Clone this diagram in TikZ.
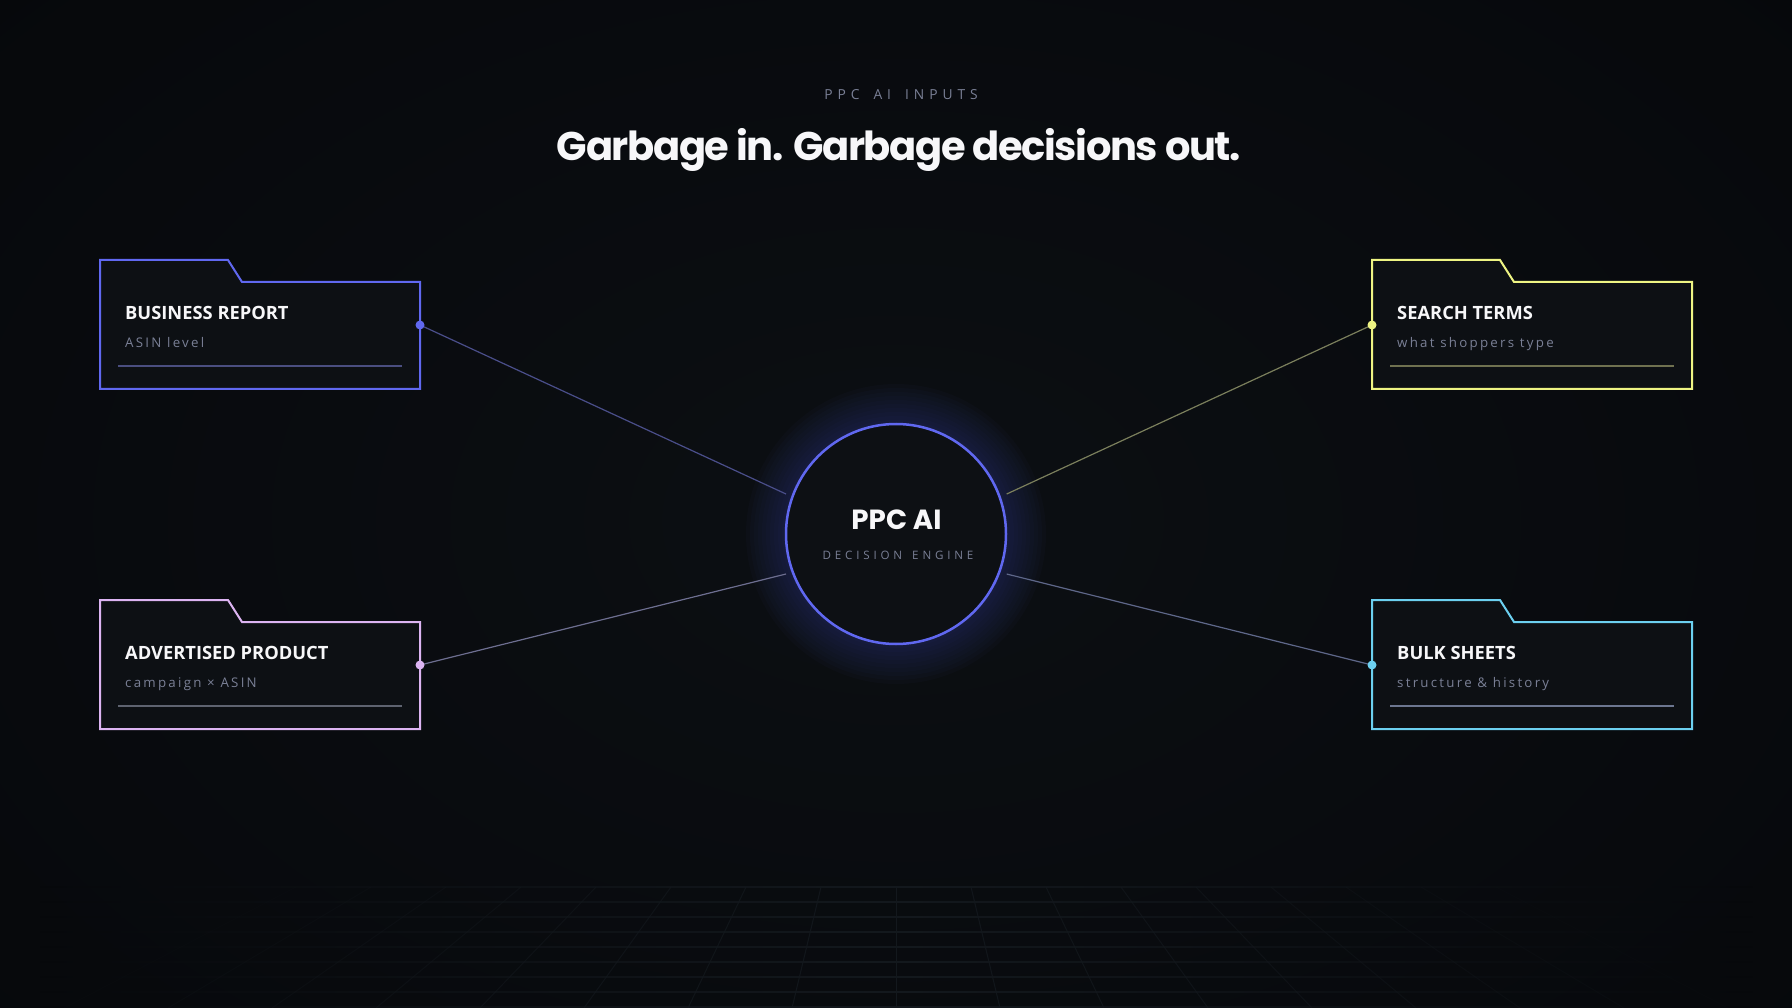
\documentclass[tikz,border=0pt]{standalone}
\usepackage{fontspec}
\setmainfont{Open Sans}
\newfontfamily\headfont[LetterSpace=-3.5]{Poppins}
\newfontfamily\hubfont{Poppins}
\newfontfamily\subfont[LetterSpace=17]{Open Sans}
\newfontfamily\kickerfont[LetterSpace=36]{Open Sans}
\newfontfamily\enginefont[LetterSpace=33]{Open Sans}

\definecolor{bgdark}{HTML}{06080B}
\definecolor{bgmid}{HTML}{0C0F13}
\definecolor{panel}{HTML}{0D1014}
\definecolor{gridc}{HTML}{13181D}
\definecolor{softgray}{HTML}{7A8096}
\definecolor{titlewhite}{HTML}{F7F7F9}
\definecolor{indigoC}{HTML}{6068F0}
\definecolor{yellowC}{HTML}{EEF483}
\definecolor{lilacC}{HTML}{DCB4F2}
\definecolor{cyanC}{HTML}{6CD0F0}
\definecolor{bizline}{HTML}{4A4E80}
\definecolor{termline}{HTML}{6F7150}
\definecolor{prodline}{HTML}{5E6370}
\definecolor{bulkline}{HTML}{6C7690}
\definecolor{bizwire}{HTML}{4A4E8A}
\definecolor{termwire}{HTML}{7B7F5C}
\definecolor{prodwire}{HTML}{6D6E90}
\definecolor{bulkwire}{HTML}{5E6789}

\tikzset{
  folder/.style={line width=2pt, fill=panel, line join=miter},
  underline/.style={line width=2pt},
  wire/.style={line width=1.2pt},
  boxtitle/.style={anchor=base west, inner sep=0pt, text=titlewhite,
    font=\fontsize{18.3}{20}\selectfont\bfseries},
  boxsub/.style={anchor=base west, inner sep=0pt, text=softgray,
    font=\subfont\fontsize{13.3}{15}\selectfont},
}

\begin{document}
\begin{tikzpicture}[x=1pt, y=-1pt]
    \useasboundingbox (0,0) rectangle (1792,1008);
    \clip (0,0) rectangle (1792,1008);

    % BACKGROUND
    \fill[bgdark] (0,0) rectangle (1792,1008);
    \shade[inner color=bgmid, outer color=bgdark] (896,520) ellipse (1250pt and 820pt);

    % FLOOR GRID (fades out to the sides)
    \foreach \k in {0,...,8}
        \shade[left color=bgdark, right color=bgdark, middle color=gridc]
            (40,{886.5+15*\k}) rectangle (1752,{887.5+15*\k});
    \foreach \k in {-8,...,8}
        \draw[gridc, line width=1pt, opacity={1-abs(\k)/9}] ({896+75*\k},887) -- ({896+104*\k},1008);

    % HEADLINE
    \node[text=softgray, font=\kickerfont\fontsize{13.8}{15}\selectfont,
          anchor=base, inner sep=0pt] (kicker) at (901,100) {PPC\hspace{14pt}AI\hspace{14pt}INPUTS};
    \node[text=titlewhite, font=\headfont\fontsize{40}{44}\selectfont\bfseries,
          anchor=base, inner sep=0pt] (headline) at (899,160.7) {Garbage in. Garbage decisions out.};

    % HUB GLOW
    \foreach \r in {150,146,...,112}
        \fill[indigoC, opacity=0.025] (896,534) circle (\r pt);

    % HUB
    \node[circle, draw=indigoC, line width=2.5pt, fill=panel, minimum size=220pt,
          inner sep=0pt] (hub) at (896,534) {};
    \node[text=titlewhite, font=\hubfont\fontsize{27.7}{30}\selectfont\bfseries,
          anchor=base, inner sep=0pt] (hubname) at (896.5,529.3) {PPC AI};
    \node[text=softgray, font=\enginefont\fontsize{11.6}{13}\selectfont,
          anchor=base, inner sep=0pt] (hubrole) at (898,559.3) {DECISION\hspace{10pt}ENGINE};

    \coordinate (hubNW) at (786,494);
    \coordinate (hubNE) at (1006.7,494);
    \coordinate (hubSW) at (786,574);
    \coordinate (hubSE) at (1006.7,574);

    % BUSINESS REPORT
    \draw[folder, draw=indigoC] (100,260) -- ++(128,0) -- ++(14,22) -- ++(178,0)
        -- ++(0,107) -- ++(-320,0) -- cycle;
    \node[boxtitle] (bizttl) at (125,319.3) {BUSINESS REPORT};
    \node[boxsub] (bizsub) at (125,347.7) {ASIN level};
    \draw[underline, bizline] (118,366) -- (402,366);
    \coordinate (bizdot) at (420,325);

    % SEARCH TERMS
    \draw[folder, draw=yellowC] (1372,260) -- ++(128,0) -- ++(14,22) -- ++(178,0)
        -- ++(0,107) -- ++(-320,0) -- cycle;
    \node[boxtitle] (termttl) at (1397,319.3) {SEARCH TERMS};
    \node[boxsub] (termsub) at (1397,347.7) {what shoppers type};
    \draw[underline, termline] (1390,366) -- (1674,366);
    \coordinate (termdot) at (1372,325);

    % ADVERTISED PRODUCT
    \draw[folder, draw=lilacC] (100,600) -- ++(128,0) -- ++(14,22) -- ++(178,0)
        -- ++(0,107) -- ++(-320,0) -- cycle;
    \node[boxtitle] (prodttl) at (125,659.3) {ADVERTISED PRODUCT};
    \node[boxsub] (prodsub) at (125,687.7) {campaign × ASIN};
    \draw[underline, prodline] (118,706) -- (402,706);
    \coordinate (proddot) at (420,665);

    % BULK SHEETS
    \draw[folder, draw=cyanC] (1372,600) -- ++(128,0) -- ++(14,22) -- ++(178,0)
        -- ++(0,107) -- ++(-320,0) -- cycle;
    \node[boxtitle] (bulkttl) at (1397,659.3) {BULK SHEETS};
    \node[boxsub] (bulksub) at (1397,687.7) {structure \& history};
    \draw[underline, bulkline] (1390,706) -- (1674,706);
    \coordinate (bulkdot) at (1372,665);

    % WIRES INTO THE HUB
    \draw[wire, bizwire] (bizdot) -- (hubNW);
    \draw[wire, termwire] (termdot) -- (hubNE);
    \draw[wire, prodwire] (proddot) -- (hubSW);
    \draw[wire, bulkwire] (bulkdot) -- (hubSE);

    % PORT DOTS
    \fill[indigoC] (bizdot) circle (4.5pt);
    \fill[yellowC] (termdot) circle (4.5pt);
    \fill[lilacC] (proddot) circle (4.5pt);
    \fill[cyanC] (bulkdot) circle (4.5pt);

\end{tikzpicture}
\end{document}
